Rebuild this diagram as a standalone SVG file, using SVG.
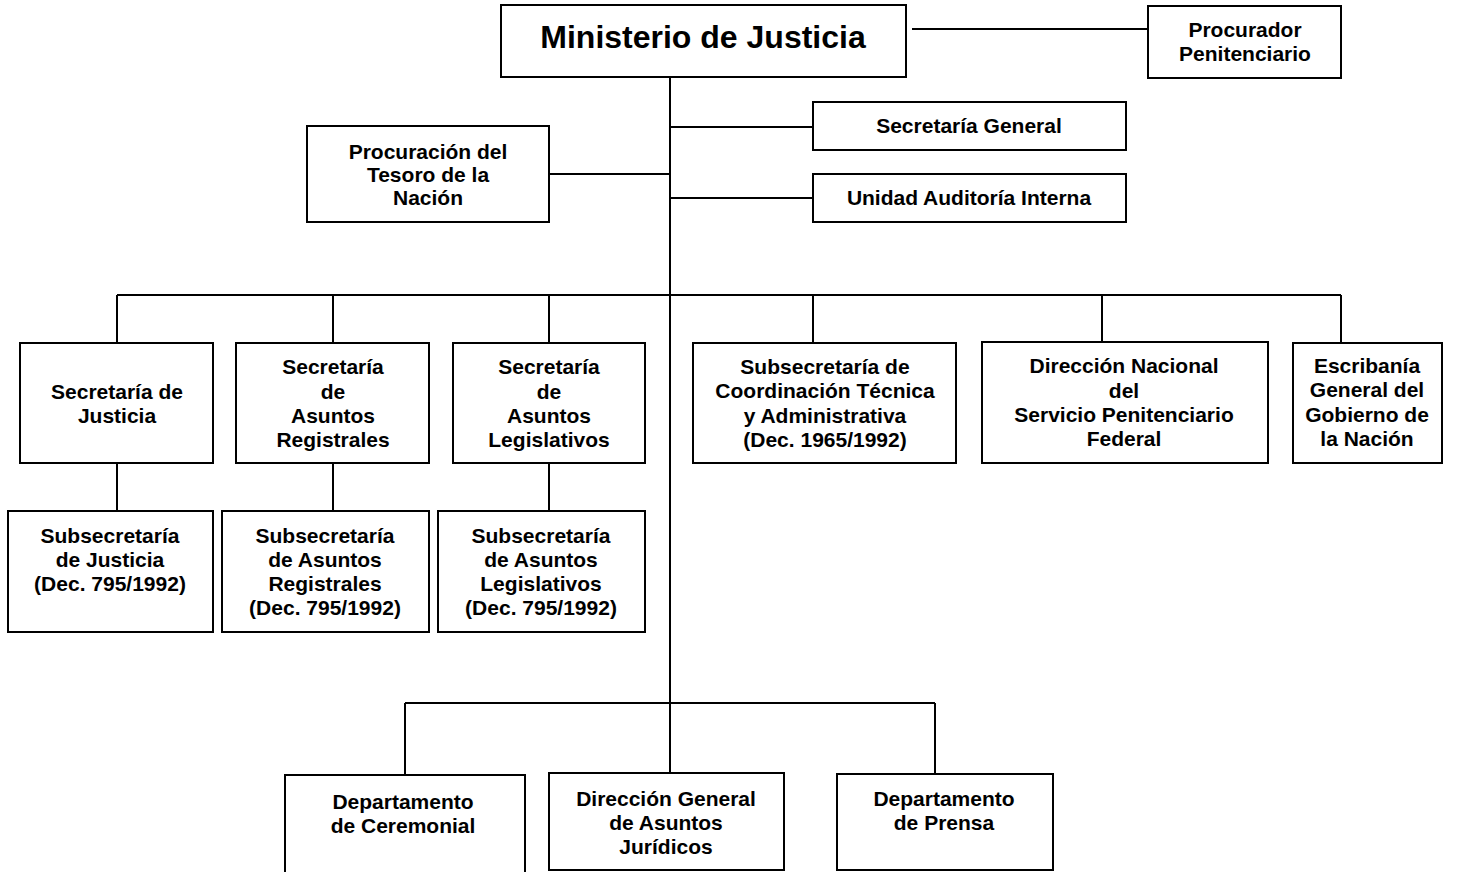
<svg xmlns="http://www.w3.org/2000/svg" width="1466" height="872" viewBox="0 0 1466 872">
<style>
.box{fill:#fff;stroke:#000;stroke-width:2}
.ln{fill:none;stroke:#000;stroke-width:2}
text{font-family:"Liberation Sans",Arial,sans-serif;font-weight:bold;font-size:21px;text-anchor:middle;fill:#000}
.big{font-size:32px}
</style>
<rect width="1466" height="872" fill="#fff"/>
<g id="connectors">
<path class="ln" d="M670,77 V773"/>
<path class="ln" d="M912,29 H1148"/>
<path class="ln" d="M670,127 H813 M670,198 H813 M549,174 H670"/>
<path class="ln" d="M117,295 H1341 M117,295 V343 M333,295 V343 M549,295 V343 M813,295 V343 M1102,295 V343 M1341,295 V343"/>
<path class="ln" d="M117,463 V511 M333,463 V511 M549,463 V511"/>
<path class="ln" d="M405,703 H935 M405,703 V775 M935,703 V774"/>
</g>
<g id="ministerio"><rect class="box" x="501" y="5" width="405" height="72"/><text class="big" x="703" y="48">Ministerio de Justicia</text></g>
<g id="procurador"><rect class="box" x="1148" y="6" width="193" height="72"/><text x="1245" y="37">Procurador</text><text x="1245" y="61">Penitenciario</text></g>
<g id="secgeneral"><rect class="box" x="813" y="102" width="313" height="48"/><text x="969" y="133">Secretaría General</text></g>
<g id="auditoria"><rect class="box" x="813" y="174" width="313" height="48"/><text x="969" y="205">Unidad Auditoría Interna</text></g>
<g id="procuracion"><rect class="box" x="307" y="126" width="242" height="96"/><text x="428" y="159">Procuración del</text><text x="428" y="182">Tesoro de la</text><text x="428" y="205">Nación</text></g>
<g id="secjusticia"><rect class="box" x="20" y="343" width="193" height="120"/><text x="117" y="399">Secretaría de</text><text x="117" y="423">Justicia</text></g>
<g id="secregistrales"><rect class="box" x="236" y="343" width="193" height="120"/><text x="333" y="374">Secretaría</text><text x="333" y="399">de</text><text x="333" y="423">Asuntos</text><text x="333" y="447">Registrales</text></g>
<g id="seclegislativos"><rect class="box" x="453" y="343" width="192" height="120"/><text x="549" y="374">Secretaría</text><text x="549" y="399">de</text><text x="549" y="423">Asuntos</text><text x="549" y="447">Legislativos</text></g>
<g id="subcoord"><rect class="box" x="693" y="343" width="263" height="120"/><text x="825" y="374">Subsecretaría de</text><text x="825" y="398">Coordinación Técnica</text><text x="825" y="423">y Administrativa</text><text x="825" y="447">(Dec. 1965/1992)</text></g>
<g id="dirnacional"><rect class="box" x="982" y="342" width="286" height="121"/><text x="1124" y="373">Dirección Nacional</text><text x="1124" y="398">del</text><text x="1124" y="422">Servicio Penitenciario</text><text x="1124" y="446">Federal</text></g>
<g id="escribania"><rect class="box" x="1293" y="343" width="149" height="120"/><text x="1367" y="373">Escribanía</text><text x="1367" y="397">General del</text><text x="1367" y="422">Gobierno de</text><text x="1367" y="446">la Nación</text></g>
<g id="subjusticia"><rect class="box" x="8" y="511" width="205" height="121"/><text x="110" y="543">Subsecretaría</text><text x="110" y="567">de Justicia</text><text x="110" y="591">(Dec. 795/1992)</text></g>
<g id="subregistrales"><rect class="box" x="222" y="511" width="207" height="121"/><text x="325" y="543">Subsecretaría</text><text x="325" y="567">de Asuntos</text><text x="325" y="591">Registrales</text><text x="325" y="615">(Dec. 795/1992)</text></g>
<g id="sublegislativos"><rect class="box" x="438" y="511" width="207" height="121"/><text x="541" y="543">Subsecretaría</text><text x="541" y="567">de Asuntos</text><text x="541" y="591">Legislativos</text><text x="541" y="615">(Dec. 795/1992)</text></g>
<g id="ceremonial"><rect class="box" x="285" y="775" width="240" height="100"/><text x="403" y="809">Departamento</text><text x="403" y="833">de Ceremonial</text></g>
<g id="juridicos"><rect class="box" x="549" y="773" width="235" height="97"/><text x="666" y="806">Dirección General</text><text x="666" y="830">de Asuntos</text><text x="666" y="854">Jurídicos</text></g>
<g id="prensa"><rect class="box" x="837" y="774" width="216" height="96"/><text x="944" y="806">Departamento</text><text x="944" y="830">de Prensa</text></g>
</svg>
